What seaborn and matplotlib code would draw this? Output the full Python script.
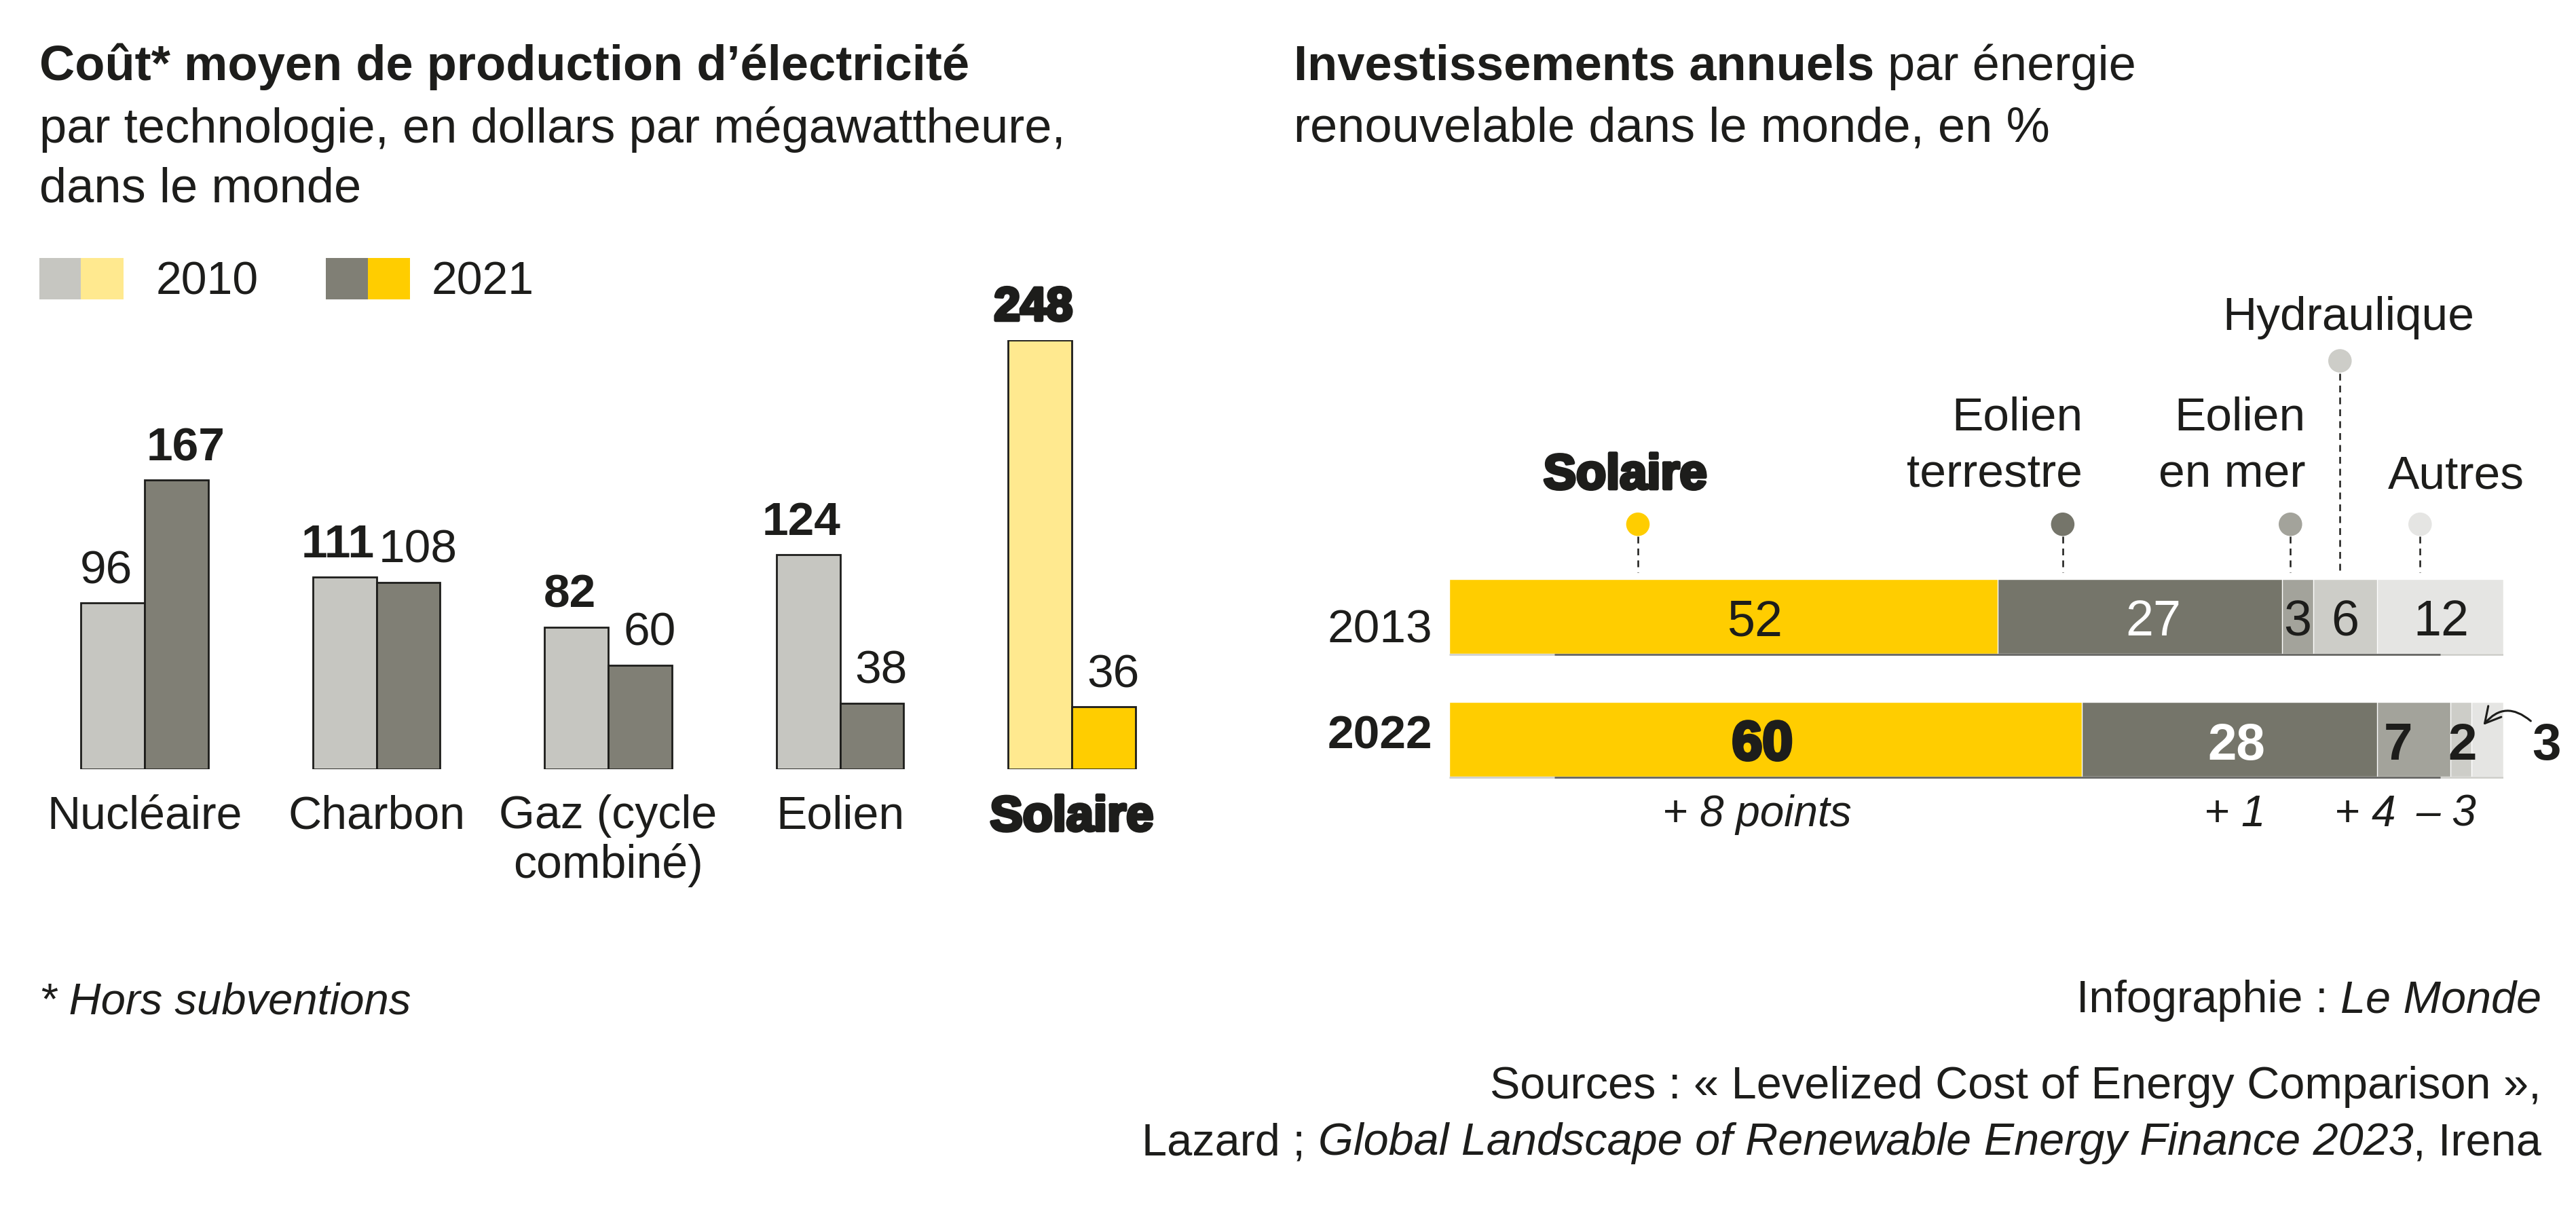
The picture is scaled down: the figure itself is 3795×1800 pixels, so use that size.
import numpy as np
import pandas as pd
import matplotlib
matplotlib.use("Agg")
import matplotlib.pyplot as plt
import matplotlib.patheffects as pe
from matplotlib.patches import Rectangle
import seaborn as sns

## data - cost per MWh
technologies = ["Nucléaire", "Charbon", "Gaz (cycle\ncombiné)", "Eolien", "Solaire"]
cost_years = ["2010", "2021"]
cost_2010 = [96, 111, 82, 124, 248]
cost_2021 = [167, 108, 60, 38, 36]

## data - investment shares
invest_years = ["2013", "2022"]
energies = ["Solaire", "Eolien terrestre", "Eolien en mer", "Hydraulique", "Autres"]
share_2013 = [52, 27, 3, 6, 12]
share_2022 = [60, 28, 7, 2, 3]
changes = ["+ 8 points", "+ 1", "+ 4", "– 3"]

## label / callout anchors (in % units of the right chart)
seg_label_x_2013 = [29.0, 66.8, 80.5, 85.0, 94.1]
seg_label_x_2022 = [29.7, 74.7, 90.0, 96.1, 104.1]
change_x = [29.2, 74.5, 86.9, 94.6]
callout_x = [17.9, 58.2, 79.8, 84.5, 92.1]
callout_y = [-0.75, -0.75, -0.75, -2.08, -0.75]

INK = "#1d1d1b"
GRAY_LIGHT = "#c6c6c1"
GRAY_DARK = "#807f75"
SUN_LIGHT = "#ffe98f"
SUN = "#ffcd00"
seg_colors = [SUN, "#75756a", "#a3a39b", "#cdcdc8", "#e5e5e3"]

sns.set_theme(style="white")
plt.rcParams["font.family"] = ["Liberation Sans", "DejaVu Sans"]

W, H = 3795, 1800
fig = plt.figure(figsize=(W / 100, H / 100), dpi=100)
fig.patch.set_facecolor("white")


def px_rect(x0, y0, x1, y1):
    return [x0 / W, 1 - y1 / H, (x1 - x0) / W, (y1 - y0) / H]


heavy = [pe.withStroke(linewidth=3.5, foreground=INK)]

## left chart: cost bars
df_cost = pd.DataFrame({
    "tech": technologies * 2,
    "year": [cost_years[0]] * 5 + [cost_years[1]] * 5,
    "cost": cost_2010 + cost_2021,
})
ax1 = fig.add_axes(px_rect(42.25, 501, 1749.75, 1133))
sns.barplot(data=df_cost, x="tech", y="cost", hue="year",
            palette=[GRAY_LIGHT, GRAY_DARK], width=0.55, gap=0,
            edgecolor=INK, linewidth=2, saturation=1, errorbar=None,
            legend=False, ax=ax1)
ax1.set_xlim(-0.5, 4.5)
ax1.set_ylim(0, 248)
ax1.set_facecolor("none")
sns.despine(ax=ax1, left=True, bottom=True)
ax1.set_yticks([])
ax1.set_xlabel("")
ax1.set_ylabel("")
ax1.set_xticks(range(len(technologies)))
ax1.set_xticklabels(technologies, fontsize=49, color=INK, linespacing=1.15)
ax1.tick_params(axis="x", length=0, pad=27)
sol_tick = ax1.get_xticklabels()[4]
sol_tick.set_fontweight("bold")
sol_tick.set_fontsize(52)
sol_tick.set_path_effects(heavy)

# solar bars in yellow
ax1.containers[0][4].set_facecolor(SUN_LIGHT)
ax1.containers[1][4].set_facecolor(SUN)

for j, cont in enumerate(ax1.containers):
    vals = cost_2010 if j == 0 else cost_2021
    other = cost_2021 if j == 0 else cost_2010
    dx = -7 if j == 0 else 10
    for i, bar in enumerate(cont):
        big = vals[i] > other[i]
        t = ax1.annotate(str(vals[i]),
                         (bar.get_x() + bar.get_width() / 2, bar.get_height()),
                         xytext=(dx, 21), textcoords="offset points",
                         ha="center", va="baseline", fontsize=50, color=INK,
                         fontweight="bold" if big else "normal",
                         annotation_clip=False)
        if big and i == 4:
            t.set_path_effects(heavy)

## right chart: stacked shares
ax2 = fig.add_axes(px_rect(2135, 817.5, 3688, 1179.5))
cum13 = np.cumsum(share_2013)
cum22 = np.cumsum(share_2022)
for k in reversed(range(len(energies))):
    sns.barplot(x=[cum13[k], cum22[k]], y=invest_years, orient="h",
                color=seg_colors[k], width=0.613, saturation=1,
                errorbar=None, ax=ax2)
ax2.set_xlim(0, 100)
ax2.set_ylim(1.5, -0.5)
ax2.axis("off")

# thin shadow under bars
for r in range(2):
    ax2.plot([0, 100], [r + 0.31] * 2, color="#cfcfcb", lw=2, solid_capstyle="butt")
    ax2.plot([10, 94], [r + 0.31] * 2, color="#3a3a38", lw=2, alpha=0.7, solid_capstyle="butt")

# segment values
txt_13 = [INK, "white", INK, INK, INK]
for k, v in enumerate(share_2013):
    ax2.text(seg_label_x_2013[k], 0.155, str(v), ha="center", va="baseline",
             fontsize=53, color=txt_13[k])
txt_22 = [INK, "white", INK, INK, INK]
for k, v in enumerate(share_2022):
    t = ax2.text(seg_label_x_2022[k], 1.165, str(v), ha="center", va="baseline",
                 fontsize=55, fontweight="bold", color=txt_22[k], clip_on=False)
    if k == 0:
        t.set_fontsize(58)
        t.set_path_effects(heavy)
ax2.annotate("", xy=(98.1, 0.884), xytext=(102.6, 0.851),
             arrowprops=dict(arrowstyle="->,head_length=0.55,head_width=0.3",
                             color=INK, lw=2.2,
                             connectionstyle="arc3,rad=0.5",
                             mutation_scale=30, shrinkA=0, shrinkB=0),
             annotation_clip=False)

# year labels
ax2.text(-1.6, 0.215, invest_years[0], ha="right", va="baseline", fontsize=50, color=INK)
ax2.text(-1.6, 1.072, invest_years[1], ha="right", va="baseline", fontsize=50,
         fontweight="bold", color=INK)

# change notes
for x, s in zip(change_x, changes):
    ax2.text(x, 1.707, s, ha="center", va="baseline", fontsize=46,
             style="italic", color=INK)

# callouts
ax2.scatter(callout_x, callout_y, s=620, color=seg_colors, linewidths=0,
            clip_on=False, zorder=5)
for x, y in zip(callout_x, callout_y):
    ax2.plot([x, x], [y + 0.1, -0.36], color=INK, lw=1.8,
             ls=(0, (4, 3)), clip_on=False)

ax2.text(16.7, -1.039, "Solaire", ha="center", va="baseline", fontsize=52,
         fontweight="bold", color=INK, path_effects=heavy)
ax2.text(60.1, -1.514, "Eolien", ha="right", va="baseline", fontsize=50, color=INK)
ax2.text(60.1, -1.050, "terrestre", ha="right", va="baseline", fontsize=50, color=INK)
ax2.text(81.2, -1.514, "Eolien", ha="right", va="baseline", fontsize=50, color=INK)
ax2.text(81.2, -1.050, "en mer", ha="right", va="baseline", fontsize=50, color=INK)
ax2.text(85.3, -2.331, "Hydraulique", ha="center", va="baseline", fontsize=50, color=INK)
ax2.text(95.5, -1.044, "Autres", ha="center", va="baseline", fontsize=50, color=INK)

## overlay for titles, legend and credits
ov = fig.add_axes([0, 0, 1, 1])
ov.set_xlim(0, W)
ov.set_ylim(H, 0)
ov.axis("off")
ov.set_facecolor("none")


def rich(x, y, parts, size, ha="left"):
    r = fig.canvas.get_renderer()
    gap = size * 100 / 72 * 0.278
    items = []
    for s, kw in parts:
        lead = s.startswith(" ")
        t = ov.text(0, y, s.strip(), fontsize=size, color=INK, va="baseline", **kw)
        items.append((t, lead))
    widths = [t.get_window_extent(r).width for t, _ in items]
    total = sum(widths) + gap * sum(1 for _, lead in items if lead)
    cur = x if ha == "left" else x - total
    for (t, lead), w in zip(items, widths):
        if lead:
            cur += gap
        t.set_x(cur)
        cur += w


ov.text(58, 118, "Coût* moyen de production d’électricité", fontsize=52,
        fontweight="bold", color=INK, va="baseline")
ov.text(58, 210, "par technologie, en dollars par mégawattheure,", fontsize=52,
        color=INK, va="baseline")
ov.text(58, 298, "dans le monde", fontsize=52, color=INK, va="baseline")

rich(1906, 118, [("Investissements annuels", dict(fontweight="bold")),
                 (" par énergie", {})], 52)
ov.text(1906, 208, "renouvelable dans le monde, en %", fontsize=52, color=INK,
        va="baseline")

# legend
ov.add_patch(Rectangle((58, 380), 61, 61, color=GRAY_LIGHT, lw=0))
ov.add_patch(Rectangle((119, 380), 63, 61, color=SUN_LIGHT, lw=0))
ov.add_patch(Rectangle((480, 380), 62, 61, color=GRAY_DARK, lw=0))
ov.add_patch(Rectangle((542, 380), 62, 61, color=SUN, lw=0))
ov.text(230, 433, cost_years[0], fontsize=49, color=INK, va="baseline")
ov.text(636, 433, cost_years[1], fontsize=49, color=INK, va="baseline")

# footnote & credits
ov.text(58, 1494, "* Hors subventions", fontsize=47, style="italic", color=INK,
        va="baseline")
rich(3744, 1491, [("Infographie :", {}), (" Le Monde", dict(style="italic"))], 48, ha="right")
ov.text(3744, 1618, "Sources : « Levelized Cost of Energy Comparison »,", fontsize=48,
        color=INK, ha="right", va="baseline")
rich(3744, 1701, [("Lazard ;", {}),
                  (" Global Landscape of Renewable Energy Finance 2023", dict(style="italic")),
                  (", Irena", {})], 48, ha="right")

plt.savefig("out.png", dpi=100, facecolor="white")
